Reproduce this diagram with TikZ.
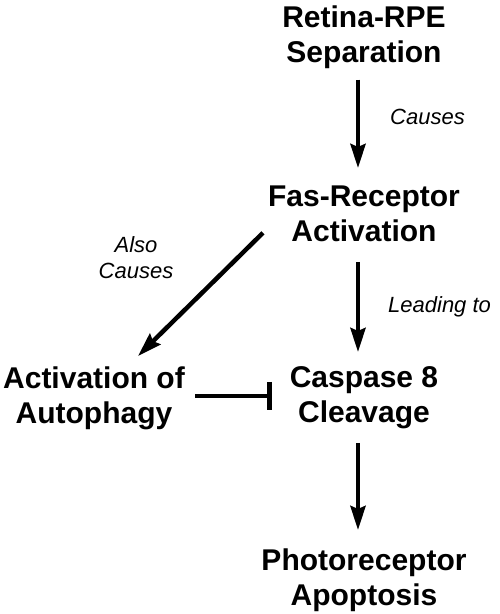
\documentclass[tikz,border=0pt]{standalone}
\usepackage{fontspec}
\setmainfont{Liberation Sans}
\usetikzlibrary{arrows.meta}

\begin{document}
\begin{tikzpicture}[x=1pt,y=-1pt]
\tikzstyle{every node}+=[inner sep=0pt]
\tikzstyle{stage}=[align=center,anchor=north,font=\fontsize{30}{35}\selectfont\bfseries]
\tikzstyle{cue}=[align=center,font=\fontsize{22}{26}\selectfont\itshape]
\tikzstyle{link}=[line width=4.5pt,-{Stealth[length=24pt,width=15pt,inset=3pt]}]
\tikzstyle{block}=[line width=4.5pt,-{Bar[width=28pt]}]
\useasboundingbox (0,0) rectangle (500,614);
\node [stage] (sep) at (364,5.5) {Retina-RPE\\Separation};
\node [stage] (fas) at (364,185.5) {Fas-Receptor\\Activation};
\node [stage] (casp) at (364,366.5) {Caspase 8\\Cleavage};
\node [stage] (auto) at (94,366.5) {Activation of\\Autophagy};
\node [stage] (apop) at (364,549) {Photoreceptor\\Apoptosis};
\node [cue,anchor=base west] (causes) at (390,124) {Causes};
\node [cue,anchor=base west] (leading) at (388,312) {Leading to};
\node [cue,anchor=north] (also) at (136,236) {Also\\Causes};
\draw [link,shorten <=10.7pt,shorten >=17.5pt] ([xshift=-6pt]sep.south) -- ([xshift=-6pt]fas.north);
\draw [link,shorten <=20pt,shorten >=14.5pt] ([xshift=-6pt]fas.south) -- ([xshift=-6pt]casp.north);
\draw [link,shorten <=13.7pt,shorten >=19pt] ([xshift=-6pt]casp.south) -- ([xshift=-6pt]apop.north);
\draw [link] ([xshift=-5pt,yshift=9pt]fas.south west) -- ([xshift=44pt,yshift=10.5pt]auto.north);
\draw [block,shorten <=10pt,shorten >=18pt] ([yshift=2.5pt]auto.east) -- ([yshift=2.5pt]auto.east -| casp.west);
\end{tikzpicture}
\end{document}
